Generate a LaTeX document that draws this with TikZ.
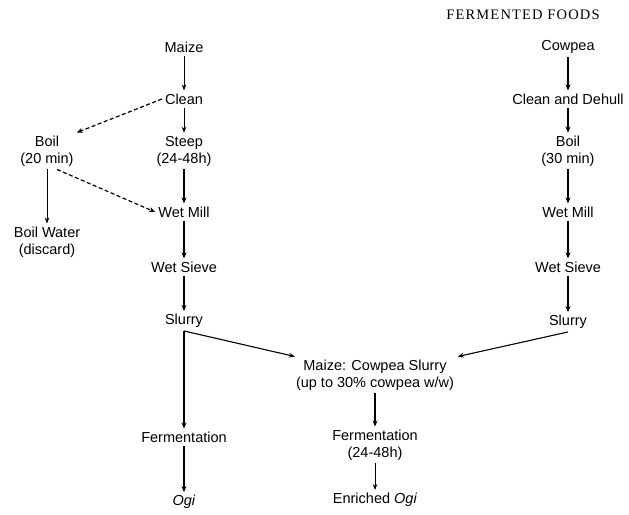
\documentclass[tikz,border=0pt]{standalone}
\usepackage{fontspec}
\setmainfont{Liberation Sans}
\newfontfamily\headfont[LetterSpace=8]{Liberation Serif}
\usetikzlibrary{arrows.meta}
\begin{document}
\begin{tikzpicture}[x=1pt,y=-1pt,
  lbl/.style={font=\fontsize{14.5}{17}\selectfont, align=center, inner sep=3pt},
  thinarr/.style={line width=0.8pt, -{Stealth[length=6pt,width=4.5pt]}},
  thickarr/.style={line width=1.5pt, -{Stealth[length=6pt,width=5pt]}},
  dasharr/.style={line width=1.2pt, dash pattern=on 4pt off 2.5pt, -{Stealth[length=6pt,width=5pt]}}]
\useasboundingbox (0,0) rectangle (629,514);
% title
\node[font=\headfont\fontsize{14.5}{17}\selectfont] (title) at (523,15) {FERMENTED FOODS};
% left (maize) branch
\node[lbl] (maize) at (184,47) {Maize};
\node[lbl] (clean) at (184,99) {Clean};
\node[lbl] (steep) at (184,151) {Steep\\(24-48h)};
\node[lbl] (boil) at (47,151) {Boil\\(20 min)};
\node[lbl] (wetmillL) at (184,212) {Wet Mill};
\node[lbl] (boilwater) at (47,242) {Boil Water\\(discard)};
\node[lbl] (sieveL) at (184,267) {Wet Sieve};
\node[lbl] (slurryL) at (184,321) {Slurry};
\node[lbl] (fermL) at (184,437) {Fermentation};
\node[lbl] (ogi) at (184,502) {\textit{Ogi}};
% right (cowpea) branch
\node[lbl] (cowpea) at (568,47) {Cowpea};
\node[lbl] (dehull) at (568,99) {Clean and Dehull};
\node[lbl] (boilR) at (568,151) {Boil\\(30 min)};
\node[lbl] (millR) at (568,212) {Wet Mill};
\node[lbl] (sieveR) at (568,267) {Wet Sieve};
\node[lbl] (slurryR) at (568,322) {Slurry};
% middle
\node[lbl, inner xsep=8pt] (mix) at (375,375) {Maize: Cowpea Slurry\\(up to 30\% cowpea w/w)};
\node[lbl] (fermM) at (375,445) {Fermentation\\(24-48h)};
\node[lbl] (eogi) at (375,500) {Enriched \textit{Ogi}};
% connectors
\draw[thinarr] (maize) -- (clean);
\draw[thinarr] (clean) -- (steep);
\draw[dasharr] (clean.west) -- (boil.north east);
\draw[thickarr] (steep) -- (wetmillL);
\draw[dasharr] ([xshift=10pt]boil.south) -- (wetmillL.west);
\draw[thinarr] (boil) -- (boilwater);
\draw[thickarr] (wetmillL) -- (sieveL);
\draw[thickarr] (sieveL) -- (slurryL);
\draw[thickarr] (slurryL) -- (fermL);
\draw[thickarr] (fermL) -- (ogi);
\draw[thinarr, line width=1.1pt] (slurryL.south) -- (mix);
\draw[thickarr] (cowpea) -- (dehull);
\draw[thickarr] (dehull) -- (boilR);
\draw[thickarr] (boilR) -- (millR);
\draw[thickarr] (millR) -- (sieveR);
\draw[thickarr] (sieveR) -- (slurryR);
\draw[thinarr, line width=1.1pt] (slurryR.south) -- (mix);
\draw[thickarr] (mix) -- (fermM);
\draw[thinarr] (fermM) -- (eogi);
\end{tikzpicture}
\end{document}
